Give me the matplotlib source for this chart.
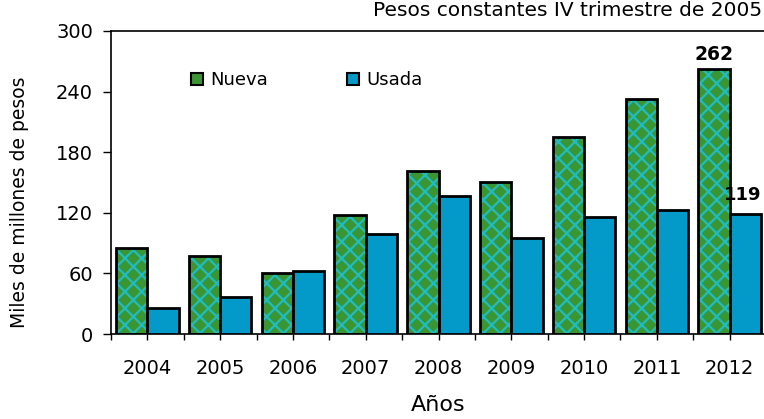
import matplotlib.pyplot as plt
import numpy as np
from matplotlib.patches import Patch

plt.rcParams['font.family'] = ['DejaVu Sans']
plt.rcParams['hatch.linewidth'] = 1.6

# Datos (miles de millones de pesos)
years = ['2004', '2005', '2006', '2007', '2008', '2009', '2010', '2011', '2012']
nueva = [85, 77, 60, 118, 161, 150, 195, 233, 262]
usada = [26, 37, 62, 99, 137, 95, 116, 123, 119]

green = '#3a9632'
cyan = '#1fbcc4'
blue = '#0399c9'

fig = plt.figure(figsize=(7.64, 4.19), dpi=100)
ax = fig.add_axes([111 / 764, 85 / 419, 655 / 764, 303 / 419])

x = np.arange(len(years))
w = 0.43

# barras "Nueva": relleno con trama y luego borde negro
ax.bar(x - w / 2, nueva, w, color=green, edgecolor=cyan, hatch='xx', linewidth=0, zorder=2)
ax.bar(x - w / 2, nueva, w, fill=False, edgecolor='black', linewidth=2, zorder=3)
ax.bar(x + w / 2, usada, w, color=blue, edgecolor='black', linewidth=2, zorder=3)

ax.annotate(str(nueva[-1]), (x[-1] - w / 2, nueva[-1]), xytext=(0, 4),
            textcoords='offset points', ha='center', va='bottom',
            fontsize=13.5, fontweight='bold')
ax.annotate(str(usada[-1]), (x[-1] + w / 2, usada[-1]), xytext=(-2, 7),
            textcoords='offset points', ha='center', va='bottom',
            fontsize=13, fontweight='bold')

ax.set_xlim(-0.5, len(years) - 0.5)
ax.set_ylim(0, 300)
ax.set_yticks(np.arange(0, 301, 60))
ax.set_xticks(x)
ax.set_xticklabels(years)
ax.set_xticks(np.arange(-0.5, len(years), 1), minor=True)
ax.tick_params(axis='x', which='both', length=4, width=1, direction='out', pad=14, labelsize=14)
ax.tick_params(axis='y', length=6, width=1, direction='out', pad=7, labelsize=14)

for s in ax.spines.values():
    s.set_linewidth(1.2)
ax.spines['right'].set_visible(False)

fig.text(20 / 764, 1 - 202 / 419, 'Miles de millones de pesos', rotation=90,
         ha='center', va='center', fontsize=13.5)
ax.set_xlabel('Años', fontsize=16, labelpad=12)

fig.text(762 / 764, 1 - 10 / 419, 'Pesos constantes IV trimestre de 2005',
         ha='right', va='center', fontsize=14.5)

handles = [Patch(facecolor=green, edgecolor='black', linewidth=1.5, label='Nueva'),
           Patch(facecolor=blue, edgecolor='black', linewidth=1.5, label='Usada')]
ax.legend(handles=handles, ncol=2, frameon=False, fontsize=13,
          loc='center left', bbox_to_anchor=(184 / 764, 1 - 80 / 419),
          bbox_transform=fig.transFigure, handlelength=0.65, handleheight=0.65,
          handletextpad=0.4, columnspacing=4.4, borderaxespad=0)

fig.savefig('out.png', dpi=100)
